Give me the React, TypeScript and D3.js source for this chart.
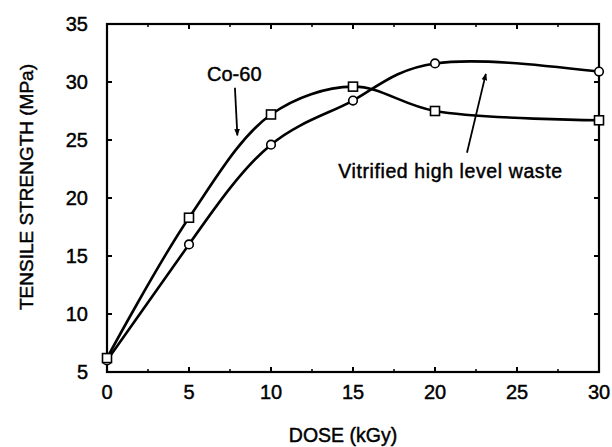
import React from "react";
import * as d3 from "d3";

// dose (kGy) at which samples were measured
const doses = [0, 5, 10, 15, 20, 30];
// tensile strength (MPa)
const co60 = [6.2, 18.3, 27.2, 29.6, 27.5, 26.7];
const vitrified = [6.0, 16.0, 24.6, 28.4, 31.6, 30.9];

const xTicks = [0, 5, 10, 15, 20, 25, 30];
const xMinor = [2.5, 7.5, 12.5, 17.5, 22.5, 27.5];
const yTicks = [5, 10, 15, 20, 25, 30, 35];

const W = 612;
const H = 447;
const margin = { top: 24, right: 13, bottom: 75, left: 107 };
const FONT = "'Liberation Sans', Arial, Helvetica, sans-serif";

export default function App() {
  const x = d3
    .scaleLinear()
    .domain([0, 30])
    .range([margin.left, W - margin.right]);
  const y = d3
    .scaleLinear()
    .domain([5, 35])
    .range([H - margin.bottom, margin.top]);

  const coLine = d3
    .line<number>()
    .x((d, i) => x(doses[i]))
    .y(d => y(d))
    .curve(d3.curveCatmullRom.alpha(0.5));

  const vitLine = d3
    .line<number>()
    .x((d, i) => x(doses[i]))
    .y(d => y(d))
    .curve(d3.curveNatural);

  const x0 = x.range()[0];
  const x1 = x.range()[1];
  const y0 = y.range()[0];
  const y1 = y.range()[1];

  const textStyle = {
    fontFamily: FONT,
    fill: "#000",
    stroke: "#000",
    strokeWidth: 0.45
  };

  return (
    <svg
      width={W}
      height={H}
      style={{ position: "absolute", left: 0, top: 0, background: "#fff" }}
    >
      <defs>
        <marker
          id="arrow"
          viewBox="0 0 10 10"
          refX="9"
          refY="5"
          markerWidth="7"
          markerHeight="9"
          orient="auto"
          markerUnits="userSpaceOnUse"
        >
          <path d="M0,1 L10,5 L0,9 z" fill="#000" />
        </marker>
      </defs>

      {/* frame */}
      <rect
        x={x0}
        y={y1}
        width={x1 - x0}
        height={y0 - y1}
        fill="none"
        stroke="#000"
        strokeWidth={2.2}
      />

      {/* x ticks, bottom and top */}
      {xTicks.map(t => (
        <g key={`xt-${t}`}>
          <line x1={x(t)} x2={x(t)} y1={y0} y2={y0 - 5} stroke="#000" strokeWidth={2} />
          <line x1={x(t)} x2={x(t)} y1={y1} y2={y1 + 5} stroke="#000" strokeWidth={2} />
          <text
            x={x(t)}
            y={y0 + 27}
            textAnchor="middle"
            fontSize={20}
            style={textStyle}
          >
            {t}
          </text>
        </g>
      ))}
      {xMinor.map(t => (
        <g key={`xm-${t}`}>
          <line x1={x(t)} x2={x(t)} y1={y0} y2={y0 - 3} stroke="#000" strokeWidth={1.5} />
          <line x1={x(t)} x2={x(t)} y1={y1} y2={y1 + 3} stroke="#000" strokeWidth={1.5} />
        </g>
      ))}

      {/* y ticks, left and right */}
      {yTicks.map(t => (
        <g key={`yt-${t}`}>
          <line x1={x0} x2={x0 + 5} y1={y(t)} y2={y(t)} stroke="#000" strokeWidth={2} />
          <line x1={x1} x2={x1 - 5} y1={y(t)} y2={y(t)} stroke="#000" strokeWidth={2} />
          <text
            x={x0 - 19}
            y={y(t)}
            dy="0.36em"
            textAnchor="end"
            fontSize={20}
            style={textStyle}
          >
            {t}
          </text>
        </g>
      ))}

      {/* curves */}
      <path d={coLine(co60) || ""} fill="none" stroke="#000" strokeWidth={2.6} />
      <path d={vitLine(vitrified) || ""} fill="none" stroke="#000" strokeWidth={2.6} />

      {/* markers */}
      {vitrified.map((v, i) => (
        <circle
          key={`c-${i}`}
          cx={x(doses[i])}
          cy={y(v)}
          r={4.3}
          fill="#fff"
          stroke="#000"
          strokeWidth={1.6}
        />
      ))}
      {co60.map((v, i) => (
        <rect
          key={`s-${i}`}
          x={x(doses[i]) - 4.5}
          y={y(v) - 4.5}
          width={9}
          height={9}
          fill="#fff"
          stroke="#000"
          strokeWidth={1.6}
        />
      ))}

      {/* annotations */}
      <text x={x(6.1)} y={y(30.1)} fontSize={20} style={textStyle}>
        Co-60
      </text>
      <line
        x1={x(7.8)}
        y1={y(29.5)}
        x2={x(7.95)}
        y2={y(25.4)}
        stroke="#000"
        strokeWidth={1.8}
        markerEnd="url(#arrow)"
      />
      <text
        x={x(14.1)}
        y={y(21.7)}
        fontSize={19.5}
        letterSpacing={0.6}
        style={textStyle}
      >
        Vitrified high level waste
      </text>
      <line
        x1={x(21.95)}
        y1={y(23.9)}
        x2={x(23.1)}
        y2={y(30.7)}
        stroke="#000"
        strokeWidth={1.8}
        markerEnd="url(#arrow)"
      />

      {/* axis titles */}
      <text
        x={(x0 + x1) / 2 - 10}
        y={442}
        textAnchor="middle"
        fontSize={19.5}
        style={textStyle}
      >
        DOSE (kGy)
      </text>
      <text
        transform={`translate(33, 187) rotate(-90)`}
        textAnchor="middle"
        fontSize={19}
        style={textStyle}
      >
        TENSILE STRENGTH (MPa)
      </text>
    </svg>
  );
}
